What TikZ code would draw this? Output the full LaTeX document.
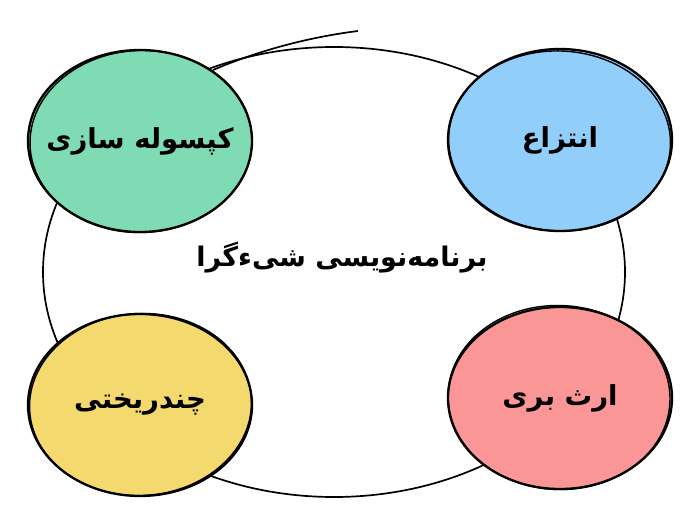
\documentclass[tikz,border=0pt]{standalone}
\usepackage{fontspec}
\usepackage{xcolor}
\usetikzlibrary{shapes.geometric}
\newfontfamily\persianfont[Script=Arabic]{DejaVu Sans}
\TeXXeTstate=1

\definecolor{mintgreen}{RGB}{127,219,180}
\definecolor{skyblue}{RGB}{145,206,250}
\definecolor{sandyellow}{RGB}{244,217,111}
\definecolor{salmonred}{RGB}{250,150,150}

% label kept at zero width so the bubble keeps its own size
\newcommand{\bubbletext}[1]{\makebox[0pt]{\beginR #1\endR}}

\tikzset{
  bubble/.style = {ellipse, draw, line width = 2.3pt, inner sep = 0pt,
    minimum width = 224pt, minimum height = 182pt,
    font = \persianfont\bfseries\fontsize{27.5}{32}\selectfont},
  sketch/.style = {line width = 1.4pt},
  title/.style = {font = \persianfont\bfseries\fontsize{27}{32}\selectfont},
}

\begin{document}
\begin{tikzpicture}[x = 1pt, y = -1pt]
      \useasboundingbox (0, 0) rectangle (700, 526);
      % big outer ring
      \draw[line width = 1.7pt] (334, 272) ellipse [x radius = 291, y radius = 225];
      \draw[line width = 1.7pt] (213, 70) .. controls (260, 50) and (310, 37) .. (358, 31);
      % the four bubbles
      \node [bubble, fill = mintgreen] (encaps) at (140, 141) {\bubbletext{کپسوله سازی}};
      \node [bubble, fill = skyblue] (abstr) at (560, 140) {\bubbletext{انتزاع}};
      \node [bubble, fill = sandyellow] (poly) at (140, 405) {\bubbletext{چندریختی}};
      \node [bubble, fill = salmonred] (inherit) at (560, 398) {\bubbletext{ارث بری}};
      \draw[sketch] ([shift = {(1, 0.5)}]encaps.center) ellipse [x radius = 111, y radius = 91, rotate = 2];
      \draw[sketch] ([shift = {(-0.5, 1)}]abstr.center) ellipse [x radius = 111, y radius = 90, rotate = -3];
      \draw[sketch] ([shift = {(0.5, -0.5)}]poly.center) ellipse [x radius = 111, y radius = 91, rotate = 3];
      \draw[sketch] ([shift = {(-1, -0.5)}]inherit.center) ellipse [x radius = 111, y radius = 92, rotate = -2];
      % centre title
      \node [title] (oop) at (342, 258) {\beginR برنامه‌نویسی شیءگرا\endR};
    \end{tikzpicture}
\end{document}
